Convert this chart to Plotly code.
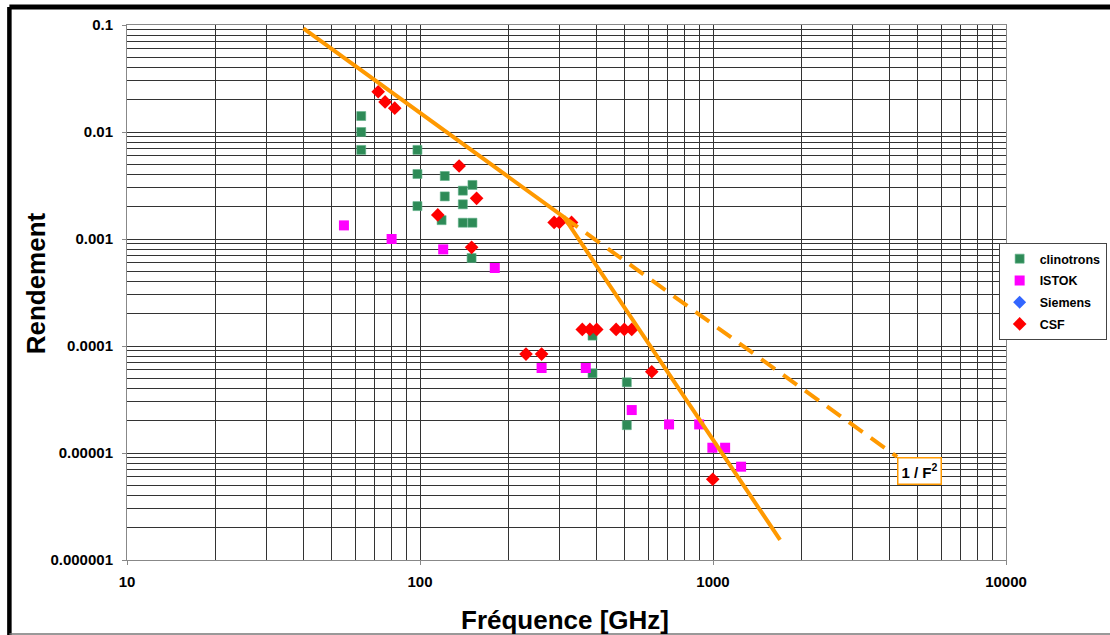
import math
import plotly.graph_objects as go

# ---------------- data ----------------
clin_x = [63, 63, 63, 98, 98, 98, 121.5, 121.5, 140, 151, 140, 118.5, 140, 151, 150, 388, 388, 508, 508]
clin_y = [0.0141, 0.0100, 0.0068, 0.0068, 0.00405, 0.00203, 0.00388, 0.0025, 0.00283, 0.0032,
          0.00211, 0.0015, 0.00142, 0.00142, 0.000664, 0.000125, 5.56e-5, 4.58e-5, 1.82e-5]

istok_x = [55, 80, 120, 180, 260, 368, 528, 708, 897, 995, 1100, 1247]
istok_y = [0.00134, 0.0010, 0.0008, 0.000536, 6.23e-5, 6.23e-5, 2.52e-5, 1.85e-5, 1.85e-5,
           1.12e-5, 1.12e-5, 7.45e-6]

siemens_x = [None]
siemens_y = [None]

csf_x = [72, 76, 82, 136, 156, 115, 150, 287, 299, 329, 358, 380, 401, 467, 498, 528, 230, 260, 618, 998]
csf_y = [0.0238, 0.0191, 0.0167, 0.00481, 0.0024, 0.00168, 0.000836, 0.00143, 0.00143, 0.00143,
         0.000143, 0.000143, 0.000143, 0.000143, 0.000143, 0.000143, 8.41e-5, 8.41e-5, 5.75e-5, 5.68e-6]

fit_x = [40, 310, 1694]
fit_y = [0.093, 0.0016, 1.54e-6]

f2_x = [310, 4250]
f2_y = [0.0016, 9.2e-6]
f2_label = "<b>1 / F<sup>2</sup></b>"

x_title = "Fréquence [GHz]"
y_title = "Rendement"

x_ticks = [10, 100, 1000, 10000]
x_ticktext = ["10", "100", "1000", "10000"]
y_ticks = [0.1, 0.01, 0.001, 0.0001, 0.00001, 0.000001]
y_ticktext = ["0.1", "0.01", "0.001", "0.0001", "0.00001", "0.000001"]

x_minor = [k * 10 ** e for e in range(1, 4) for k in range(2, 10)]
y_minor = [k * 10.0 ** e for e in range(-6, -1) for k in range(2, 10)]

FONT = "Liberation Sans, Arial, sans-serif"
ORANGE = "#FF9900"
GRID = "#333333"

fig = go.Figure()

fig.add_trace(go.Scatter(x=clin_x, y=clin_y, mode="markers", name="clinotrons", legendgroup="a",
                         marker=dict(symbol="square", size=9, color="#2E8B57",
                                     line=dict(color="#5FB088", width=0.6))))
fig.add_trace(go.Scatter(x=istok_x, y=istok_y, mode="markers", name="ISTOK", legendgroup="b",
                         marker=dict(symbol="square", size=10, color="#FF00FF",
                                     line=dict(width=0))))
fig.add_trace(go.Scatter(x=siemens_x, y=siemens_y, mode="markers", name="Siemens", legendgroup="c",
                         marker=dict(symbol="diamond", size=10, color="#3366FF",
                                     line=dict(width=0))))
fig.add_trace(go.Scatter(x=csf_x, y=csf_y, mode="markers", name="CSF", legendgroup="d",
                         marker=dict(symbol="diamond", size=10.5, color="#FF0000",
                                     line=dict(width=0))))

fig.add_trace(go.Scatter(x=fit_x, y=fit_y, mode="lines", showlegend=False,
                         line=dict(color=ORANGE, width=4)))
fig.add_trace(go.Scatter(x=f2_x, y=f2_y, mode="lines", showlegend=False,
                         line=dict(color=ORANGE, width=4, dash="17px,10px")))

# annotation on log axes uses log10 coordinates
fig.add_annotation(x=math.log10(f2_x[-1]), y=math.log10(f2_y[-1]), xref="x", yref="y",
                   text=f2_label, showarrow=False, xanchor="left", yanchor="top",
                   font=dict(family=FONT, size=15, color="black"),
                   bordercolor=ORANGE, borderwidth=1.5, borderpad=3, bgcolor="white")

# axis titles
fig.add_annotation(x=0.4983, y=-0.112, xref="paper", yref="paper", text=x_title, showarrow=False,
                   xanchor="center", yanchor="middle",
                   font=dict(family=FONT, size=26, color="black", weight="bold"))
fig.add_annotation(x=-0.1031, y=0.5178, xref="paper", yref="paper", text=y_title, showarrow=False,
                   xanchor="center", yanchor="middle", textangle=-90,
                   font=dict(family=FONT, size=26, color="black", weight="bold"))

# chart frame (Excel chart area border)
fig.add_shape(type="line", xref="paper", yref="paper", x0=-0.1338, x1=1.2, y0=1.0336, y1=1.0336,
              line=dict(color="black", width=5))
fig.add_shape(type="line", xref="paper", yref="paper", x0=-0.1338, x1=-0.1338, y0=-0.14, y1=1.0336,
              line=dict(color="black", width=4.5))
fig.add_shape(type="line", xref="paper", yref="paper", x0=-0.1338, x1=1.2, y0=-0.1383, y1=-0.1383,
              line=dict(color="#777777", width=1.5))

fig.update_xaxes(type="log", range=[1, 4], tickmode="array", tickvals=x_ticks, ticktext=x_ticktext,
                 showgrid=True, gridcolor=GRID, gridwidth=1,
                 minor=dict(tickvals=x_minor, showgrid=True, gridcolor=GRID, gridwidth=1, ticks=""),
                 showline=True, linecolor="#888888", linewidth=1, mirror=True,
                 ticks="outside", ticklen=4, tickcolor="#888888", ticklabelstandoff=4,
                 tickfont=dict(family=FONT, size=15, color="black", weight="bold"),
                 zeroline=False)
fig.update_yaxes(type="log", range=[-6, -1], tickmode="array", tickvals=y_ticks, ticktext=y_ticktext,
                 showgrid=True, gridcolor=GRID, gridwidth=1,
                 minor=dict(tickvals=y_minor, showgrid=True, gridcolor=GRID, gridwidth=1, ticks=""),
                 showline=True, linecolor="#888888", linewidth=1, mirror=True,
                 ticks="outside", ticklen=4, tickcolor="#888888", ticklabelstandoff=6,
                 tickfont=dict(family=FONT, size=15, color="black", weight="bold"),
                 zeroline=False)

fig.update_layout(
    width=1110, height=635,
    margin=dict(l=127, r=104, t=25, b=75, autoexpand=False),
    paper_bgcolor="white", plot_bgcolor="white",
    font=dict(family=FONT, color="black"),
    legend=dict(x=1.1145, y=0.5925, xanchor="right", yanchor="top",
                bordercolor="#444444", borderwidth=1, bgcolor="white",
                font=dict(family=FONT, size=12.5, color="black", weight="bold"),
                itemwidth=30, traceorder="grouped", tracegroupgap=2.5),
)

fig.write_html("out.html")
